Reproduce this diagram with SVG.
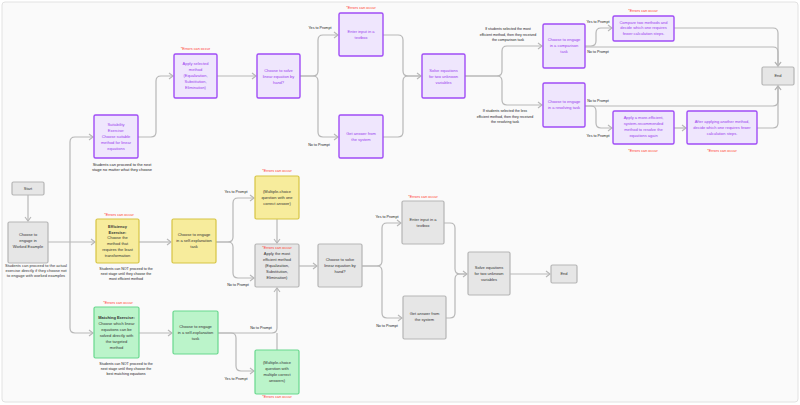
<svg xmlns="http://www.w3.org/2000/svg" width="800" height="405" viewBox="0 0 800 405">
  <style>
    text { font-family: "Liberation Sans", Arial, sans-serif; text-anchor: middle; }
    .node rect { stroke-width: 1.2; }
    .pu rect { fill: #efe6fd; stroke: #a04cf6; stroke-width: 1.4; }
    .pu text { fill: #9a3cef; font-size: 4px; }
    .ye rect { fill: #f7ec9c; stroke: #d6c443; }
    .gr rect { fill: #bbf4ca; stroke: #68d78d; }
    .gy rect { fill: #e6e6e6; stroke: #b5b5b5; }
    .ye text, .gr text, .gy text { fill: #333; font-size: 4px; }
    .b { font-weight: bold; }
    .err { fill: #ff3b30; font-size: 3.8px; }
    .lbl { fill: #222; font-size: 3.7px; }
    .note { fill: #222; font-size: 3.6px; }
    #connectors path { fill: none; stroke: #b7b7b7; stroke-width: 1.2; }
  </style>
  <defs>
    <marker id="arr" markerWidth="8" markerHeight="8" refX="6" refY="4" orient="auto" markerUnits="userSpaceOnUse">
      <path d="M2,1 L6,4 L2,7" fill="none" stroke="#b7b7b7" stroke-width="1.1"/>
    </marker>
  </defs>

  <!-- canvas frame -->
  <rect x="0" y="0" width="800" height="405" fill="#ffffff"/>
  <rect x="2" y="2" width="796" height="400" rx="3" fill="#fafafa" stroke="#e2e2e2" stroke-width="1"/>

  <!-- connectors -->
  <g id="connectors">
    <path d="M28,195 V221" marker-end="url(#arr)"/>
    <path d="M48,242 H95" marker-end="url(#arr)"/>
    <path d="M70,242 V142 Q70,137 75,137 H93" marker-end="url(#arr)"/>
    <path d="M70,242 V328 Q70,333 75,333 H93" marker-end="url(#arr)"/>

    <path d="M138,137 H151 Q156,137 156,132 V81 Q156,76 161,76 H173" marker-end="url(#arr)"/>
    <path d="M217,76 H256" marker-end="url(#arr)"/>
    <path d="M300,76 H313 Q318,76 318,71 V40 Q318,35 323,35 H338" marker-end="url(#arr)"/>
    <path d="M300,76 H313 Q318,76 318,81 V132 Q318,137 323,137 H338" marker-end="url(#arr)"/>
    <path d="M383,35 H398 Q403,35 403,40 V71 Q403,76 408,76 H421" marker-end="url(#arr)"/>
    <path d="M383,137 H398 Q403,137 403,132 V81 Q403,76 408,76 H421"/>
    <path d="M465,76 H497 Q502,76 502,71 V51 Q502,46 507,46 H542" marker-end="url(#arr)"/>
    <path d="M465,76 H497 Q502,76 502,81 V100 Q502,105 507,105 H542" marker-end="url(#arr)"/>
    <path d="M585,46 H591 Q596,46 596,41 V33 Q596,28 601,28 H612" marker-end="url(#arr)"/>
    <path d="M585,47 H773 Q778,47 778,52 V66" marker-end="url(#arr)"/>
    <path d="M674,28 H773 Q778,28 778,33 V66" marker-end="url(#arr)"/>
    <path d="M585,106 H773 Q778,106 778,101 V86" marker-end="url(#arr)"/>
    <path d="M585,106 H591 Q596,106 596,111 V123 Q596,128 601,128 H612" marker-end="url(#arr)"/>
    <path d="M674,128 H686" marker-end="url(#arr)"/>
    <path d="M757,128 H773 Q778,128 778,123 V86" marker-end="url(#arr)"/>

    <path d="M139,242 H171" marker-end="url(#arr)"/>
    <path d="M216,242 H228 Q233,242 233,237 V203 Q233,198 238,198 H254" marker-end="url(#arr)"/>
    <path d="M216,242 H228 Q233,242 233,247 V273 Q233,278 238,278 H254" marker-end="url(#arr)"/>
    <path d="M277,219 V243" marker-end="url(#arr)"/>
    <path d="M299,266 H317" marker-end="url(#arr)"/>
    <path d="M362,266 H377 Q382,266 382,261 V228 Q382,223 387,223 H401" marker-end="url(#arr)"/>
    <path d="M362,266 H377 Q382,266 382,271 V313 Q382,318 387,318 H402" marker-end="url(#arr)"/>
    <path d="M444,223 H450 Q455,223 455,228 V269 Q455,274 460,274 H467" marker-end="url(#arr)"/>
    <path d="M446,318 H450 Q455,318 455,313 V279 Q455,274 460,274 H467"/>
    <path d="M510,274 H550" marker-end="url(#arr)"/>

    <path d="M139,333 H172" marker-end="url(#arr)"/>
    <path d="M218,333 H231 Q236,333 236,338 V366 Q236,371 241,371 H254" marker-end="url(#arr)"/>
    <path d="M218,333 H272 Q277,333 277,328 V288" marker-end="url(#arr)"/>
    <path d="M277,350 V333"/>
  </g>

  <!-- connector labels -->
  <g id="labels">
    <text class="lbl" x="320" y="29">Yes to Prompt</text>
    <text class="lbl" x="319" y="146">No to Prompt</text>
    <text class="lbl" x="598" y="23">Yes to Prompt</text>
    <text class="lbl" x="598" y="53">No to Prompt</text>
    <text class="lbl" x="598" y="102">No to Prompt</text>
    <text class="lbl" x="598" y="137">Yes to Prompt</text>
    <text class="lbl" x="236" y="193">Yes to Prompt</text>
    <text class="lbl" x="238" y="286">No to Prompt</text>
    <text class="lbl" x="387" y="218">Yes to Prompt</text>
    <text class="lbl" x="387" y="327">No to Prompt</text>
    <text class="lbl" x="261" y="329">No to Prompt</text>
    <text class="lbl" x="236" y="380">Yes to Prompt</text>
    <text class="note" x="508" y="30">If students selected the most</text>
    <text class="note" x="508" y="35.5">efficient method, then they received</text>
    <text class="note" x="508" y="41">the comparison task</text>
    <text class="note" x="505" y="112">If students selected the less</text>
    <text class="note" x="505" y="117.5">efficient method, then they received</text>
    <text class="note" x="505" y="123">the resolving task</text>
  </g>

  <!-- start -->
  <g id="start" class="node gy">
    <rect x="12" y="182" width="32" height="13" rx="1.5"/>
    <text x="28" y="189.8">Start</text>
  </g>

  <g id="worked-example" class="node gy">
    <rect x="8" y="222" width="40" height="41" rx="1.5"/>
    <text x="28" y="236.4">Choose to</text>
    <text x="28" y="242.4">engage in</text>
    <text x="28" y="248.4">Worked Example</text>
    <text class="note" x="36" y="267">Students can proceed to the actual</text>
    <text class="note" x="36" y="272">exercise directly if they choose not</text>
    <text class="note" x="36" y="277">to engage with worked examples</text>
  </g>

  <!-- suitability branch -->
  <g id="suitability" class="node pu">
    <rect x="94" y="115" width="44" height="43" rx="1.5"/>
    <text x="116" y="126.4">Suitability</text>
    <text x="116" y="132.4">Exercise:</text>
    <text x="116" y="138.4">Choose suitable</text>
    <text x="116" y="144.4">method for linear</text>
    <text x="116" y="150.4">equations</text>
    <text class="note" x="122" y="165.5" style="fill:#222">Students can proceed to the next</text>
    <text class="note" x="122" y="170.5" style="fill:#222">stage no matter what they choose</text>
  </g>

  <g id="apply-selected" class="node pu">
    <text class="err" x="195.5" y="50.3" style="fill:#ff3b30;font-size:3.8px">*Errors can occur</text>
    <rect x="174" y="54" width="43" height="44" rx="1.5"/>
    <text x="195.5" y="65.4">Apply selected</text>
    <text x="195.5" y="71.4">method</text>
    <text x="195.5" y="77.4">(Equalization,</text>
    <text x="195.5" y="83.4">Substitution,</text>
    <text x="195.5" y="89.4">Elimination)</text>
  </g>

  <g id="solve-by-hand-1" class="node pu">
    <rect x="257" y="54" width="43" height="44" rx="1.5"/>
    <text x="278.5" y="72.4">Choose to solve</text>
    <text x="278.5" y="78.4">linear equation by</text>
    <text x="278.5" y="84.4">hand?</text>
  </g>

  <g id="enter-input-1" class="node pu">
    <text class="err" x="361" y="8.8" style="fill:#ff3b30;font-size:3.8px">*Errors can occur</text>
    <rect x="339" y="13" width="44" height="43" rx="1.5"/>
    <text x="361" y="33.4">Enter input in a</text>
    <text x="361" y="39.4">textbox</text>
  </g>

  <g id="get-answer-1" class="node pu">
    <rect x="339" y="115" width="44" height="43" rx="1.5"/>
    <text x="361" y="135.4">Get answer from</text>
    <text x="361" y="141.4">the system</text>
  </g>

  <g id="solve-equations-1" class="node pu">
    <rect x="422" y="54" width="43" height="44" rx="1.5"/>
    <text x="443.5" y="72.4">Solve equations</text>
    <text x="443.5" y="78.4">for two unknown</text>
    <text x="443.5" y="84.4">variables</text>
  </g>

  <g id="comparison-task" class="node pu">
    <rect x="543" y="24" width="42" height="44" rx="1.5"/>
    <text x="564" y="41.4">Choose to engage</text>
    <text x="564" y="47.4">in a comparison</text>
    <text x="564" y="53.4">task</text>
  </g>

  <g id="resolving-task" class="node pu">
    <rect x="543" y="83" width="42" height="44" rx="1.5"/>
    <text x="564" y="103.4">Choose to engage</text>
    <text x="564" y="109.4">in a resolving task</text>
  </g>

  <g id="compare-methods" class="node pu">
    <text class="err" x="643" y="12.3" style="fill:#ff3b30;font-size:3.8px">*Errors can occur</text>
    <rect x="613" y="16" width="61" height="25" rx="1.5"/>
    <text x="643.5" y="23.9">Compare two methods and</text>
    <text x="643.5" y="29.4">decide which one requires</text>
    <text x="643.5" y="34.9">fewer calculation steps.</text>
  </g>

  <g id="apply-efficient" class="node pu">
    <rect x="613" y="111" width="61" height="33" rx="1.5"/>
    <text x="643.5" y="119.4">Apply a more-efficient,</text>
    <text x="643.5" y="125.4">system-recommended</text>
    <text x="643.5" y="131.4">method to resolve the</text>
    <text x="643.5" y="137.4">equations again</text>
    <text class="err" x="643" y="152" style="fill:#ff3b30;font-size:3.8px">*Errors can occur</text>
  </g>

  <g id="after-applying" class="node pu">
    <rect x="687" y="111" width="70" height="33" rx="1.5"/>
    <text x="722" y="122.9">After applying another method,</text>
    <text x="722" y="128.9">decide which one requires fewer</text>
    <text x="722" y="134.9">calculation steps.</text>
    <text class="err" x="722" y="152" style="fill:#ff3b30;font-size:3.8px">*Errors can occur</text>
  </g>

  <g id="end-1" class="node gy">
    <rect x="762" y="67" width="32" height="18" rx="1.5"/>
    <text x="778" y="77.4">End</text>
  </g>

  <!-- efficiency branch -->
  <g id="efficiency" class="node ye">
    <text class="err" x="119" y="216.3" style="fill:#ff3b30;font-size:3.8px">*Errors can occur</text>
    <rect x="96" y="219" width="43" height="44" rx="1.5"/>
    <text class="b" x="117.5" y="228.4">Efficiency</text>
    <text class="b" x="117.5" y="233.9">Exercise:</text>
    <text x="117.5" y="239.4">Choose the</text>
    <text x="117.5" y="245.4">method that</text>
    <text x="117.5" y="251.4">requires the least</text>
    <text x="117.5" y="257.4">transformation</text>
    <text class="note" x="126" y="270" style="fill:#222;font-size:3.6px">Students can NOT proceed to the</text>
    <text class="note" x="126" y="275" style="fill:#222;font-size:3.6px">next stage until they choose the</text>
    <text class="note" x="126" y="280" style="fill:#222;font-size:3.6px">most efficient method</text>
  </g>

  <g id="self-explanation-1" class="node ye">
    <rect x="172" y="219" width="44" height="44" rx="1.5"/>
    <text x="194" y="236.4">Choose to engage</text>
    <text x="194" y="242.4">in a self-explanation</text>
    <text x="194" y="248.4">task</text>
  </g>

  <g id="single-answer" class="node ye">
    <text class="err" x="277" y="172.3" style="fill:#ff3b30;font-size:3.8px">*Errors can occur</text>
    <rect x="255" y="176" width="44" height="43" rx="1.5"/>
    <text x="277" y="193.4">(Multiple-choice</text>
    <text x="277" y="199.4">question with one</text>
    <text x="277" y="205.4">correct answer)</text>
  </g>

  <g id="apply-most-efficient" class="node gy">
    <rect x="255" y="244" width="44" height="43" rx="1.5"/>
    <text class="err" x="277" y="249.3" style="fill:#ff3b30;font-size:3.8px">*Errors can occur</text>
    <text x="277" y="255.4">Apply the most</text>
    <text x="277" y="261.4">efficient method</text>
    <text x="277" y="267.4">(Equalization,</text>
    <text x="277" y="273.4">Substitution,</text>
    <text x="277" y="279.4">Elimination)</text>
  </g>

  <g id="solve-by-hand-2" class="node gy">
    <rect x="318" y="244" width="44" height="43" rx="1.5"/>
    <text x="340" y="261.4">Choose to solve</text>
    <text x="340" y="267.4">linear equation by</text>
    <text x="340" y="273.4">hand?</text>
  </g>

  <g id="enter-input-2" class="node gy">
    <text class="err" x="423" y="198.3" style="fill:#ff3b30;font-size:3.8px">*Errors can occur</text>
    <rect x="402" y="201" width="42" height="43" rx="1.5"/>
    <text x="423" y="221.4">Enter input in a</text>
    <text x="423" y="227.4">textbox</text>
  </g>

  <g id="get-answer-2" class="node gy">
    <rect x="403" y="296" width="43" height="43" rx="1.5"/>
    <text x="424.5" y="315.4">Get answer from</text>
    <text x="424.5" y="321.4">the system</text>
  </g>

  <g id="solve-equations-2" class="node gy">
    <rect x="468" y="252" width="42" height="43" rx="1.5"/>
    <text x="489" y="269.4">Solve equations</text>
    <text x="489" y="275.4">for two unknown</text>
    <text x="489" y="281.4">variables</text>
  </g>

  <g id="end-2" class="node gy">
    <rect x="551" y="265" width="26" height="18" rx="1.5"/>
    <text x="564" y="275.4">End</text>
  </g>

  <!-- matching branch -->
  <g id="matching" class="node gr">
    <text class="err" x="118" y="304" style="fill:#ff3b30;font-size:3.8px">*Errors can occur</text>
    <rect x="94" y="307" width="45" height="51" rx="1.5"/>
    <text class="b" x="116.5" y="319.4">Matching Exercise:</text>
    <text x="116.5" y="325.4">Choose which linear</text>
    <text x="116.5" y="331.4">equations can be</text>
    <text x="116.5" y="337.4">solved directly with</text>
    <text x="116.5" y="343.4">the targeted</text>
    <text x="116.5" y="349.4">method</text>
    <text class="note" x="126" y="365" style="fill:#222;font-size:3.6px">Students can NOT proceed to the</text>
    <text class="note" x="126" y="370" style="fill:#222;font-size:3.6px">next stage until they choose the</text>
    <text class="note" x="126" y="375" style="fill:#222;font-size:3.6px">best matching equations</text>
  </g>

  <g id="self-explanation-2" class="node gr">
    <rect x="173" y="311" width="45" height="43" rx="1.5"/>
    <text x="195.5" y="328.4">Choose to engage</text>
    <text x="195.5" y="334.4">in a self-explanation</text>
    <text x="195.5" y="340.4">task</text>
  </g>

  <g id="multiple-answers" class="node gr">
    <rect x="255" y="350" width="44" height="44" rx="1.5"/>
    <text x="277" y="364.4">(Multiple-choice</text>
    <text x="277" y="370.4">question with</text>
    <text x="277" y="376.4">multiple correct</text>
    <text x="277" y="382.4">answers)</text>
    <text class="err" x="277" y="398.3" style="fill:#ff3b30;font-size:3.8px">*Errors can occur</text>
  </g>
</svg>
